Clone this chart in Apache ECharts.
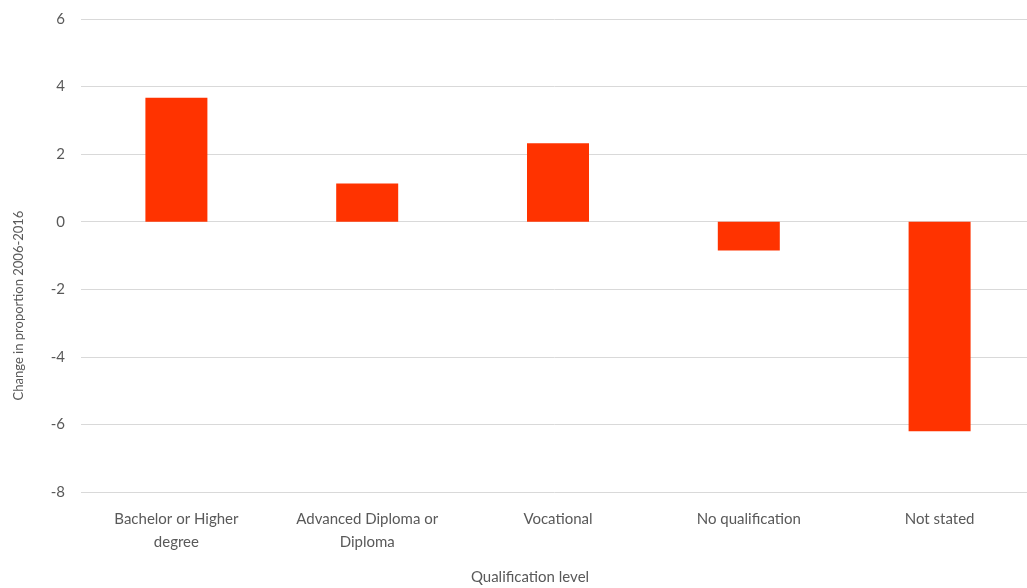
<!DOCTYPE html>
<html>
<head>
<meta charset="utf-8">
<script src="https://cdn.jsdelivr.net/npm/echarts@6/dist/echarts.min.js"></script>
<style>
  html, body { margin: 0; padding: 0; background: #fff; }
  #chart { width: 1027px; height: 588px; }
</style>
</head>
<body>
<div id="chart"></div>
<script>
// Qualification levels and change in proportion (percentage points), 2006-2016
const categories = [
  'Bachelor or Higher\ndegree',
  'Advanced Diploma or\nDiploma',
  'Vocational',
  'No qualification',
  'Not stated'
];
const changeValues = [3.67, 1.13, 2.32, -0.85, -6.2];
const yTicks = { min: -8, max: 6, step: 2 };

const textColor = '#595959';
const fontFamily = 'Lato, "Open Sans", sans-serif';

const chart = echarts.init(document.getElementById('chart'), null, { renderer: 'canvas' });
chart.setOption({
  animation: false,
  backgroundColor: '#ffffff',
  grid: {
    left: 81, top: 19, width: 954, height: 473,
    containLabel: false, outerBoundsMode: 'none'
  },
  xAxis: {
    type: 'category',
    data: categories,
    name: 'Qualification level',
    nameLocation: 'middle',
    nameGap: 78,
    nameTextStyle: { color: textColor, fontSize: 15, fontFamily, padding: [0, 56, 0, 0] },
    axisLine: { show: false },
    axisTick: { show: false },
    axisLabel: {
      color: textColor, fontSize: 15, fontFamily, lineHeight: 23, margin: 16, interval: 0
    }
  },
  yAxis: {
    type: 'value',
    min: yTicks.min,
    max: yTicks.max,
    interval: yTicks.step,
    name: 'Change in proportion 2006-2016',
    nameLocation: 'middle',
    nameGap: 56,
    nameTextStyle: { color: textColor, fontSize: 13, fontFamily, padding: [0, 100, 0, 0] },
    axisLine: { show: false },
    axisTick: { show: false },
    axisLabel: { color: textColor, fontSize: 15, fontFamily, margin: 16 },
    splitLine: { lineStyle: { color: '#d9d9d9', width: 1 } }
  },
  series: [{
    type: 'bar',
    data: changeValues,
    barWidth: 62,
    itemStyle: { color: '#ff3300' }
  }]
});
</script>
</body>
</html>
